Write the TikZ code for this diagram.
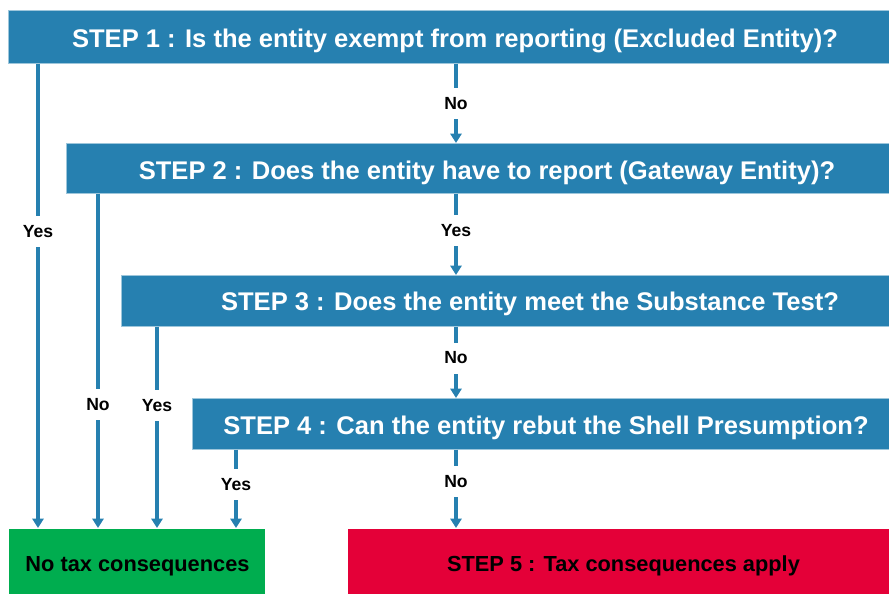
\documentclass[tikz,border=0pt]{standalone}
\usepackage{fontspec}
\setmainfont{Liberation Sans}
\usetikzlibrary{arrows.meta}
\definecolor{stepblue}{HTML}{2680B0}
\definecolor{okgreen}{HTML}{00AD4F}
\definecolor{taxred}{HTML}{E40038}

\begin{document}
\begin{tikzpicture}[x=0.03cm, y=-0.03cm,
    stepbox/.style={fill=stepblue, draw=stepblue!45!white, line width=0.5pt, anchor=north west, inner sep=0pt},
    endbox/.style={draw=white, line width=0.5pt, anchor=north west, inner sep=0pt, minimum height=1.98cm},
    steptxt/.style={text=white, font=\fontsize{21.8}{24}\selectfont\bfseries, inner sep=0pt, text height=15.6pt, text depth=0pt},
    endtxt/.style={text=black, font=\fontsize{18.6}{22}\selectfont\bfseries, inner sep=0pt, text height=13.3pt, text depth=0pt},
    flow/.style={draw=stepblue, line width=2.6pt, -{Triangle[width=9.5pt,length=8pt]}},
    lbl/.style={fill=white, font=\fontsize{15}{17}\selectfont\bfseries, inner xsep=2pt, inner ysep=8pt}]
  \useasboundingbox[fill=white] (0,0) rectangle (889,594);

  % question boxes
  \node[stepbox, minimum width=26.43cm, minimum height=1.59cm] (s1) at (8,10) {};
  \node[stepbox, minimum width=24.69cm, minimum height=1.50cm] (s2) at (66,143) {};
  \node[stepbox, minimum width=23.04cm, minimum height=1.53cm] (s3) at (121,275) {};
  \node[stepbox, minimum width=20.91cm, minimum height=1.53cm] (s4) at (192,398) {};
  \node[steptxt] (t1) at (455,38) {STEP 1 : Is the entity exempt from reporting (Excluded Entity)?};
  \node[steptxt] (t2) at (487,170) {STEP 2 : Does the entity have to report (Gateway Entity)?};
  \node[steptxt] (t3) at (530,301) {STEP 3 : Does the entity meet the Substance Test?};
  \node[steptxt] (t4) at (546,425) {STEP 4 : Can the entity rebut the Shell Presumption?};

  % outcomes
  \node[endbox, fill=okgreen, minimum width=7.71cm] (ok) at (8,528) {};
  \node[endbox, fill=taxred, minimum width=16.26cm] (tax) at (347,528) {};
  \node[endtxt] (tok) at (137.5,563.5) {No tax consequences};
  \node[endtxt] (ttax) at (623.5,564) {STEP 5 : Tax consequences apply};

  % columns of the connectors
  \coordinate (cA) at (38,0);
  \coordinate (cB) at (98,0);
  \coordinate (cC) at (157,0);
  \coordinate (cD) at (236,0);
  \coordinate (cM) at (456,0);

  \draw[flow] (s1.south -| cA) -- node[lbl, pos=.361] (yA) {Yes} (ok.north -| cA);
  \draw[flow] (s2.south -| cB) -- node[lbl, pos=.63] (nB) {No} (ok.north -| cB);
  \draw[flow] (s3.south -| cC) -- node[lbl, pos=.39] (yC) {Yes} (ok.north -| cC);
  \draw[flow] (s4.south -| cD) -- node[lbl, pos=.44] (yD) {Yes} (ok.north -| cD);

  \draw[flow] (s1.south -| cM) -- node[lbl, pos=.5] (n1) {No} (s2.north -| cM);
  \draw[flow] (s2.south -| cM) -- node[lbl, pos=.45] (y2) {Yes} (s3.north -| cM);
  \draw[flow] (s3.south -| cM) -- node[lbl, pos=.44] (n3) {No} (s4.north -| cM);
  \draw[flow] (s4.south -| cM) -- node[lbl, pos=.41] (n4) {No} (tax.north -| cM);
\end{tikzpicture}
\end{document}
